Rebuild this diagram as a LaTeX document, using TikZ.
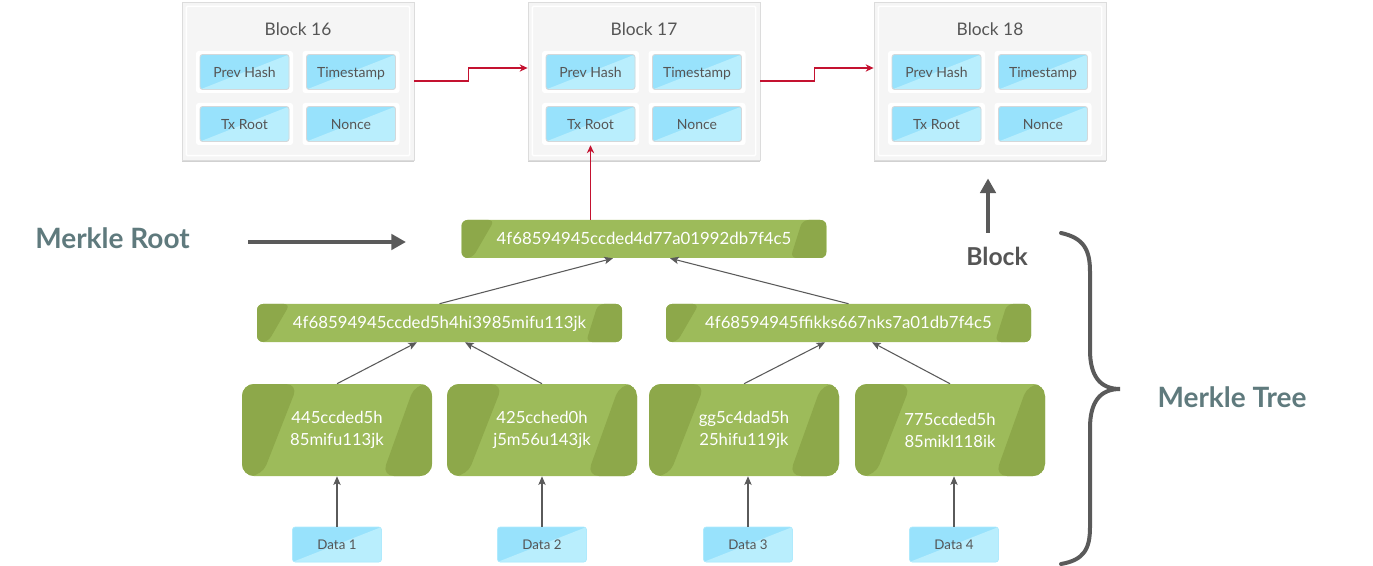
\documentclass[tikz,border=0pt]{standalone}
\usepackage{fontspec}
\setmainfont{Lato}
\usetikzlibrary{arrows.meta,shadows,calc}
\definecolor{gLight}{HTML}{9DBB5A}
\definecolor{gDark}{HTML}{8DA84A}
\definecolor{bDark}{HTML}{98E2FC}
\definecolor{bLight}{HTML}{B9EEFD}
\definecolor{blkFill}{HTML}{F5F5F5}
\definecolor{blkLine}{HTML}{DCDCDC}
\definecolor{cellLine}{HTML}{D4D8DA}
\definecolor{redArr}{HTML}{C41230}
\definecolor{grayArr}{HTML}{5A5A5A}
\definecolor{slate}{HTML}{5F7A7D}
\definecolor{txtGray}{HTML}{555555}
\tikzset{
  blockbox/.style={rectangle, fill=blkFill, draw=blkLine, line width=0.6pt,
    minimum width=174pt, minimum height=118.5pt, inner sep=0pt,
    drop shadow={shadow xshift=0pt, shadow yshift=-1.2pt, opacity=0.18, fill=black}},
  blocktitle/.style={text=txtGray, font=\fontsize{13}{15}\selectfont, inner sep=0pt,
    text height=9.4pt, text depth=0pt},
  backing/.style={rectangle, fill=white, rounded corners=2pt,
    minimum width=72.75pt, minimum height=31.5pt, inner sep=0pt},
  bluebox/.style={rectangle, rounded corners=2pt, fill=bDark, inner sep=0pt,
    text=txtGray,
    path picture={\fill[bLight] (path picture bounding box.south west)
      -- (path picture bounding box.north east)
      -- (path picture bounding box.south east) -- cycle;}},
  cellbox/.style={bluebox, draw=cellLine, line width=0.7pt,
    minimum width=66.75pt, minimum height=26.25pt,
    font=\fontsize{10.5}{12}\selectfont, text height=7.6pt, text depth=0pt},
  databox/.style={bluebox, draw=bLight!70!bDark, line width=0.5pt,
    minimum width=66.75pt, minimum height=26.25pt,
    font=\fontsize{10}{12}\selectfont, text height=7.2pt, text depth=0pt},
  greenbox/.style n args={5}{rectangle, rounded corners=#5, fill=gLight,
    inner sep=0pt, text=white, align=center,
    path picture={
      \fill[gDark] (path picture bounding box.north west)
        -- ([xshift=#1]path picture bounding box.north west)
        -- ([xshift=#2]path picture bounding box.south west)
        -- (path picture bounding box.south west) -- cycle;
      \fill[gDark] (path picture bounding box.north east)
        -- ([xshift=-#3]path picture bounding box.north east)
        -- ([xshift=-#4]path picture bounding box.south east)
        -- (path picture bounding box.south east) -- cycle;}},
  hashbox/.style={greenbox={24.75pt}{8.25pt}{18pt}{27pt}{4.5pt},
    minimum width=273.75pt, minimum height=28.5pt,
    font=\fontsize{12.6}{14}\selectfont, text height=9pt, text depth=0pt},
  leafbox/.style={greenbox={42pt}{15pt}{12.75pt}{37.5pt}{9pt},
    minimum width=142.5pt, minimum height=69pt,
    font=\fontsize{12.5}{16.5}\selectfont},
  redarrow/.style={draw=redArr, line width=0.9pt, -{Stealth[length=6pt,width=5.5pt]}},
  treearrow/.style={draw=grayArr, line width=0.8pt, -{Stealth[length=6.5pt,width=5.5pt,inset=1.5pt]}},
  thickarrow/.style={draw=grayArr, line width=3.6pt, -{Triangle[length=11pt,width=11.5pt]}},
  biglabel/.style={font=\bfseries\fontsize{21}{24}\selectfont, inner sep=0pt},
}
\begin{document}
\begin{tikzpicture}[x=0.75pt,y=-0.75pt]
\useasboundingbox (0,0) rectangle (1373,566);
% blocks
\foreach \n/\L in {16/182,17/528,18/874}{
  \node[blockbox] (b\n) at (\L+116,81) {};
  \draw[white, line width=1.1pt, rounded corners=1pt]
    ([shift={(3.5pt,-3.5pt)}]b\n.north west) rectangle ([shift={(-3.5pt,3.5pt)}]b\n.south east);
  \node[blocktitle] (b\n-title) at (\L+116,29) {Block \n};
  \node[backing] (b\n-pvw) at (\L+62.5,72) {};
  \node[backing] (b\n-tsw) at (\L+169,72) {};
  \node[backing] (b\n-txw) at (\L+62.5,124) {};
  \node[backing] (b\n-nw) at (\L+169,124) {};
  \node[cellbox] (b\n-pv) at (b\n-pvw) {Prev Hash};
  \node[cellbox] (b\n-ts) at (b\n-tsw) {Timestamp};
  \node[cellbox] (b\n-tx) at (b\n-txw) {Tx Root};
  \node[cellbox] (b\n-n) at (b\n-nw) {Nonce};
}
% chain arrows
\draw[redarrow] (b16.east) -- ++(54,0) |- ([yshift=9.75pt]b17.west);
\draw[redarrow] (b17.east) -- ++(54,0) |- ([yshift=9.75pt]b18.west);
% merkle tree
\node[hashbox] (root) at (644,239) {4f68594945ccded4d77a01992db7f4c5};
\node[hashbox] (m1) at (439.5,323) {4f68594945ccded5h4hi3985mifu113jk};
\node[hashbox] (m2) at (848.5,323) {4f68594945ffikks667nks7a01db7f4c5};
\node[leafbox] (l1) at (337,430) {445ccded5h\\85mifu113jk};
\node[leafbox] (l2) at (542,430) {425cched0h\\j5m56u143jk};
\node[leafbox] (l3) at (744,430) {gg5c4dad5h\\25hifu119jk};
\node[leafbox] (l4) at (950,430) {775ccded5h\\85mikl118ik};
\node[databox] (d1) at (337,544.5) {Data 1};
\node[databox] (d2) at (542,544.5) {Data 2};
\node[databox] (d3) at (748,544.5) {Data 3};
\node[databox] (d4) at (954,544.5) {Data 4};
% root to block 17
\draw[redarrow] (root.north -| b17-txw.south) -- (b17-txw.south);
% tree arrows
\draw[treearrow] (m1.north) -- ([xshift=-23.25pt]root.south);
\draw[treearrow] (m2.north) -- ([xshift=19.5pt]root.south);
\draw[treearrow] (l1.north) -- ([xshift=-16.9pt]m1.south);
\draw[treearrow] (l2.north) -- ([xshift=19.1pt]m1.south);
\draw[treearrow] (l3.north) -- ([xshift=-17.6pt]m2.south);
\draw[treearrow] (l4.north) -- ([xshift=17.6pt]m2.south);
\foreach \i in {1,2,3,4}{
  \draw[treearrow] (d\i.north) -- (d\i.north |- l\i.south);
}
% labels
\node[biglabel, text=slate] (mrlabel) at (112.5,238) {Merkle Root};
\coordinate (mrs) at (248,242);
\coordinate (mre) at (406,242);
\draw[thickarrow] (mrs) -- (mre);
\node[biglabel, text=txtGray, font=\bfseries\fontsize{18.5}{22}\selectfont] (blocklabel) at (997,256) {Block};
\coordinate (bas) at (988,233);
\draw[thickarrow] (bas) -- ([yshift=-13.5pt]bas |- b18.south);
\node[biglabel, text=slate] (mtlabel) at (1232,397) {Merkle Tree};
% brace
\draw[grayArr, line width=3pt, line cap=round]
  (1061,233) .. controls (1084,238) and (1090,250) .. (1090,272)
  -- (1090,350) .. controls (1090,376) and (1100,389) .. (1120,389)
  .. controls (1100,389) and (1090,402) .. (1090,428)
  -- (1090,527) .. controls (1090,549) and (1084,560) .. (1061,564);
\end{tikzpicture}
\end{document}
